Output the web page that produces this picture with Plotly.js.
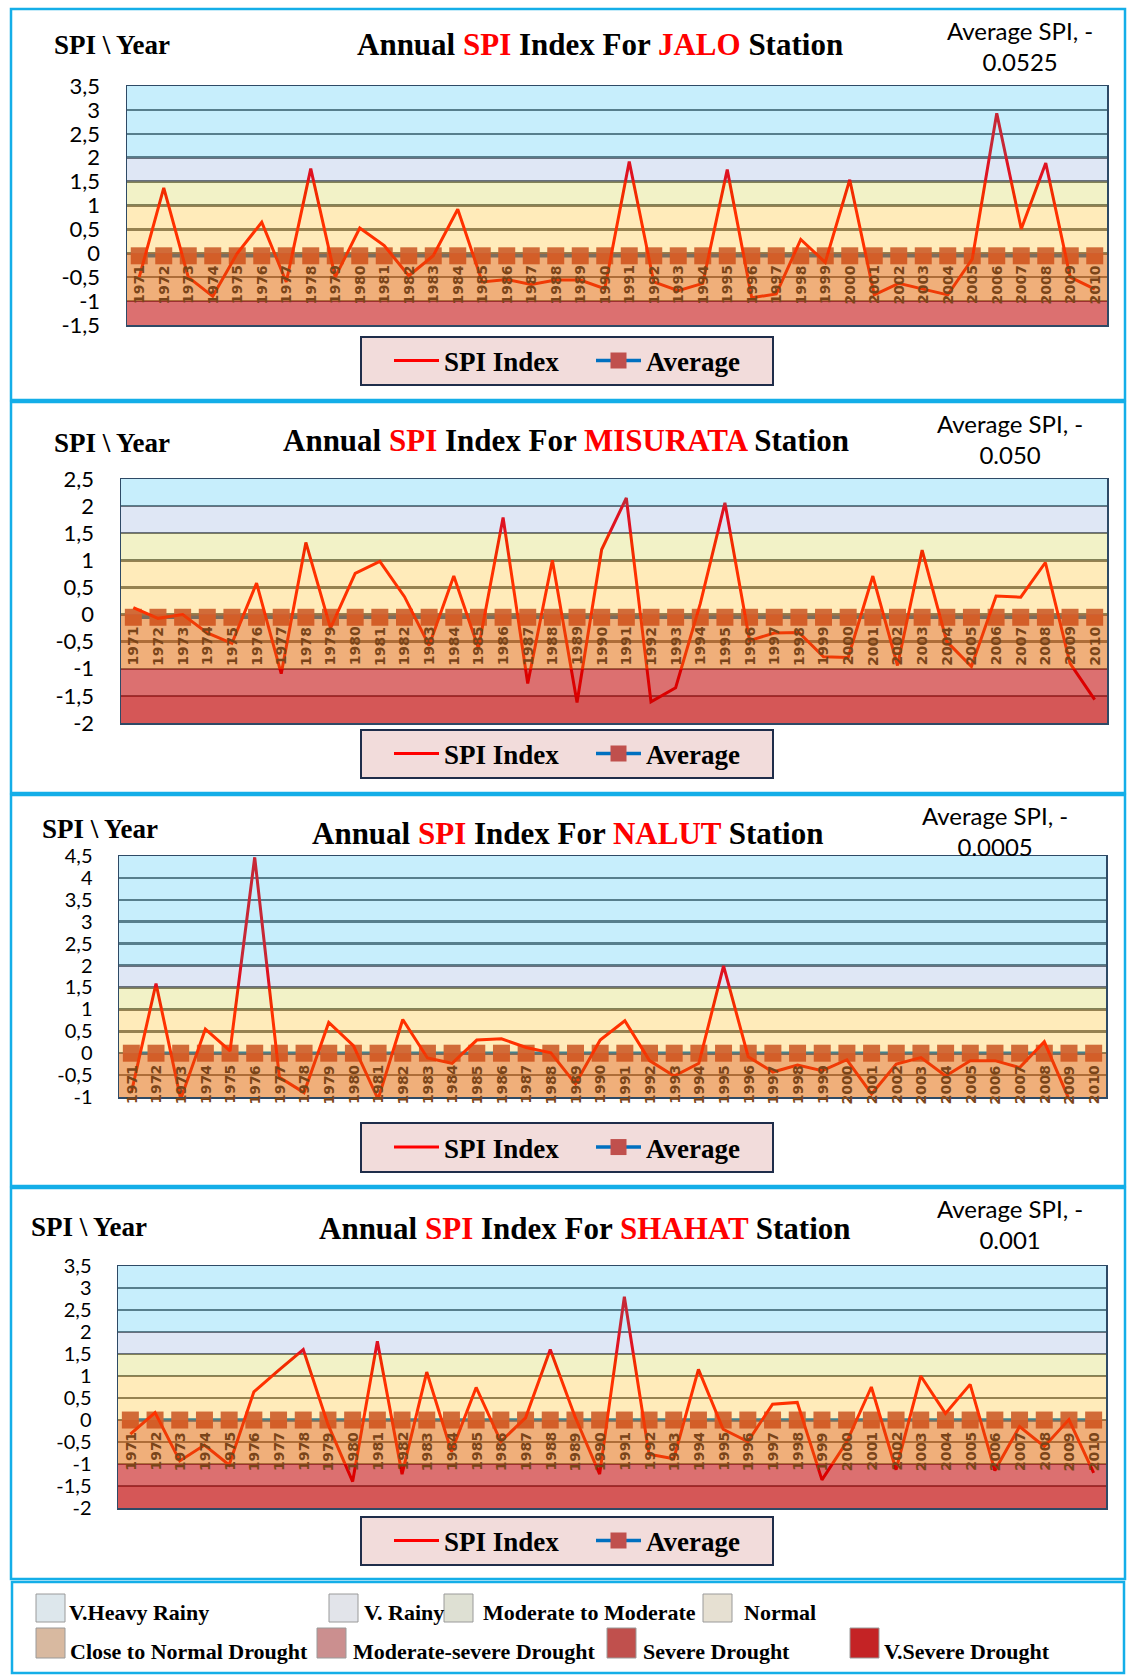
<!DOCTYPE html>
<html><head><meta charset="utf-8">
<script src="https://cdn.plot.ly/plotly-3.0.1.min.js"></script>
<style>html,body{margin:0;padding:0;background:#fff}</style>
</head><body>
<div id="chart" style="width:1129px;height:1679px"></div>
<script>
// ---------------- DATA ----------------
const years = ['1971','1972','1973','1974','1975','1976','1977','1978','1979','1980',
  '1981','1982','1983','1984','1985','1986','1987','1988','1989','1990',
  '1991','1992','1993','1994','1995','1996','1997','1998','1999','2000',
  '2001','2002','2003','2004','2005','2006','2007','2008','2009','2010'];

const jaloSPI = [-0.50, 1.37, -0.50, -0.90, 0.00, 0.65, -0.60, 1.77, -0.50, 0.53,
  0.16, -0.47, -0.05, 0.92, -0.60, -0.55, -0.65, -0.56, -0.56, -0.74,
  1.92, -0.60, -0.78, -0.63, 1.75, -0.93, -0.85, 0.29, -0.19, 1.54,
  -0.87, -0.63, -0.75, -0.87, -0.12, 2.93, 0.51, 1.89, -0.50, -0.75];

const misurataSPI = [0.13, -0.07, 0.00, -0.34, -0.53, 0.58, -1.09, 1.33, -0.25, 0.76,
  0.98, 0.33, -0.57, 0.71, -0.62, 1.79, -1.27, 1.00, -1.62, 1.20,
  2.15, -1.61, -1.35, 0.20, 2.06, -0.48, -0.34, -0.33, -0.78, -0.79,
  0.71, -0.94, 1.19, -0.50, -0.96, 0.34, 0.32, 0.96, -0.90, -1.57];

const nalutSPI = [-0.90, 1.59, -1.05, 0.55, 0.05, 4.47, -0.55, -0.90, 0.70, 0.17,
  -1.05, 0.77, -0.11, -0.23, 0.30, 0.33, 0.13, 0.01, -0.70, 0.30,
  0.74, -0.17, -0.52, -0.23, 1.99, -0.08, -0.43, -0.27, -0.40, -0.15,
  -0.93, -0.25, -0.10, -0.52, -0.17, -0.17, -0.33, 0.26, -1.05, -1.10];

const shahatSPI = [-0.32, 0.17, -0.93, -0.57, -1.02, 0.64, 1.13, 1.60, -0.10, -1.40,
  1.79, -1.23, 1.09, -0.72, 0.74, -0.49, 0.05, 1.60, 0.08, -1.23,
  2.80, -0.78, -0.88, 1.15, -0.21, -0.49, 0.36, 0.40, -1.36, -0.50,
  0.75, -1.13, 1.00, 0.15, 0.81, -1.15, -0.15, -0.60, 0.01, -1.20];

const stations = ['JALO', 'MISURATA', 'NALUT', 'SHAHAT'];
const averageSPI = [-0.0525, -0.050, -0.0005, -0.001];
const averageText = ['0.0525', '0.050', '0.0005', '0.001'];
const spiSeries = [jaloSPI, misurataSPI, nalutSPI, shahatSPI];

const yRanges = [[-1.5, 3.5], [-2, 2.5], [-1, 4.5], [-2, 3.5]];
const yTickVals = [
  [-1.5, -1, -0.5, 0, 0.5, 1, 1.5, 2, 2.5, 3, 3.5],
  [-2, -1.5, -1, -0.5, 0, 0.5, 1, 1.5, 2, 2.5],
  [-1, -0.5, 0, 0.5, 1, 1.5, 2, 2.5, 3, 3.5, 4, 4.5],
  [-2, -1.5, -1, -0.5, 0, 0.5, 1, 1.5, 2, 2.5, 3, 3.5]];
const yTickText = [
  ['-1,5', '-1', '-0,5', '0', '0,5', '1', '1,5', '2', '2,5', '3', '3,5'],
  ['-2', '-1,5', '-1', '-0,5', '0', '0,5', '1', '1,5', '2', '2,5'],
  ['-1', '-0,5', '0', '0,5', '1', '1,5', '2', '2,5', '3', '3,5', '4', '4,5'],
  ['-2', '-1,5', '-1', '-0,5', '0', '0,5', '1', '1,5', '2', '2,5', '3', '3,5']];

// SPI classes (lower, upper bound) and the bottom legend
const classNames = ['V.Heavy Rainy', 'V. Rainy', 'Moderate to Moderate', 'Normal',
  'Close to Normal Drought', 'Moderate-severe Drought', 'Severe Drought', 'V.Severe Drought'];
const classLower = [2, 1.5, 1, 0, -1, -1.5, -2, -10];
const classUpper = [10, 2, 1.5, 1, 0, -1, -1.5, -2];

// ---------------- STYLE ----------------
const bandFill = ['rgba(0,176,240,0.22)', 'rgba(68,114,196,0.17)', 'rgba(195,195,0,0.22)',
  'rgba(255,180,0,0.27)', 'rgba(228,108,10,0.54)', 'rgba(192,0,0,0.56)',
  'rgba(192,0,0,0.66)', 'rgba(160,0,0,0.7)'];
const swatchFill = ['#DDE7EC', '#E2E4EA', '#DEE0D3', '#E6E0D2', '#D8B9A0', '#CB8F8F', '#C0504D', '#C42325'];
const tickSize = [22, 22, 20, 20];

const W = 1129, H = 1679;
const px = v => v / W;
const py = v => 1 - v / H;

const panels = [
  {box: [11, 9, 1125, 400], plot: [127, 86, 1107, 325], title: [600, 45], lab: [52, 45], avg: [1020, 46], leg: [361, 337, 773, 385]},
  {box: [11, 402, 1125, 793], plot: [121, 479, 1107, 723], title: [566, 441], lab: [52, 443], avg: [1010, 439], leg: [361, 730, 773, 778]},
  {box: [11, 795, 1125, 1186], plot: [119, 856, 1106, 1097], title: [567, 833], lab: [40, 829], avg: [995, 831], leg: [361, 1123, 773, 1172]},
  {box: [11, 1188, 1125, 1579], plot: [118, 1266, 1106, 1508], title: [585, 1228], lab: [29, 1227], avg: [1010, 1224], leg: [361, 1517, 773, 1565]}
];

const data = [];
const shapes = [];
const annotations = [];
const layout = {
  width: W, height: H,
  margin: {l: 0, r: 0, t: 0, b: 0},
  paper_bgcolor: '#fff', plot_bgcolor: '#fff',
  showlegend: true,
  shapes: shapes, annotations: annotations
};

panels.forEach((p, i) => {
  const n = i === 0 ? '' : String(i + 1);
  const xa = 'x' + n, ya = 'y' + n;
  const legName = 'legend' + n;

  // panel frame
  shapes.push({type: 'rect', xref: 'paper', yref: 'paper', x0: px(p.box[0]), x1: px(p.box[2]),
    y0: py(p.box[3]), y1: py(p.box[1]), line: {color: '#14AEE8', width: 2.5}, layer: 'below'});
  // legend box
  shapes.push({type: 'rect', xref: 'paper', yref: 'paper', x0: px(p.leg[0]), x1: px(p.leg[2]),
    y0: py(p.leg[3]), y1: py(p.leg[1]), fillcolor: '#F2DCDB', line: {color: '#1F2D4A', width: 2}, layer: 'below'});

  layout['xaxis' + n] = {
    domain: [px(p.plot[0]), px(p.plot[2])], anchor: ya, type: 'category',
    range: [-0.5, years.length - 0.5], showticklabels: false, showgrid: false, zeroline: false,
    showline: true, mirror: true, linecolor: '#2E4A66', linewidth: 1.5, fixedrange: true
  };
  layout['yaxis' + n] = {
    domain: [py(p.plot[3]), py(p.plot[1])], anchor: xa, range: yRanges[i],
    tickvals: yTickVals[i], ticktext: yTickText[i], ticks: '', ticklabelstandoff: 21,
    tickfont: {family: 'Lato', size: tickSize[i], color: '#000'},
    showgrid: true, gridcolor: '#707070', gridwidth: 2.5, zeroline: false,
    showline: true, mirror: true, linecolor: '#2E4A66', linewidth: 1.5, fixedrange: true
  };

  // traces
  data.push({
    type: 'scatter', mode: 'lines+markers', name: 'Average', x: years,
    y: years.map(() => averageSPI[i]), xaxis: xa, yaxis: ya, legend: legName, legendrank: 2,
    line: {color: '#0070C0', width: 3.5},
    marker: {symbol: 'square', size: 17, color: '#C0504D'}, hoverinfo: 'skip'
  });
  data.push({
    type: 'scatter', mode: 'lines', name: 'SPI Index', x: years, y: spiSeries[i],
    xaxis: xa, yaxis: ya, legend: legName, legendrank: 1,
    line: {color: '#FF0000', width: 3}, hoverinfo: 'skip'
  });

  layout[legName] = {
    orientation: 'h', x: px(p.leg[0] + 28), xanchor: 'left', y: py((p.leg[1] + p.leg[3]) / 2), yanchor: 'middle',
    bgcolor: 'rgba(0,0,0,0)', borderwidth: 0,
    font: {family: 'Liberation Serif', size: 27, color: '#000', weight: 'bold'},
    entrywidth: 142, itemwidth: 45
  };

  // SPI class bands drawn over the plot (semi-transparent, like the original)
  classNames.forEach((c, k) => {
    const lo = Math.max(classLower[k], yRanges[i][0]);
    const hi = Math.min(classUpper[k], yRanges[i][1]);
    if (hi <= lo) return;
    shapes.push({type: 'rect', xref: xa + ' domain', yref: ya, x0: 0, x1: 1, y0: lo, y1: hi,
      fillcolor: bandFill[k], line: {width: 0}, layer: 'above'});
  });

  // year labels on the zero line (category serial positions)
  years.forEach((yr, k) => {
    annotations.push({x: k, y: 0, xref: xa, yref: ya, text: '<b>' + yr + '</b>', showarrow: false,
      textangle: -90, yanchor: 'top', xanchor: 'center', yshift: -10,
      font: {family: 'DejaVu Sans', size: 14, color: '#7A4519'}});
  });

  // titles and labels
  annotations.push({xref: 'paper', yref: 'paper', x: px(p.title[0]), y: py(p.title[1]),
    xanchor: 'center', yanchor: 'middle', showarrow: false,
    text: '<b>Annual <span style="color:#FF0000">SPI</span> Index For <span style="color:#FF0000">' +
      stations[i] + '</span> Station</b>',
    font: {family: 'Liberation Serif', size: 31, color: '#000'}});
  annotations.push({xref: 'paper', yref: 'paper', x: px(p.lab[0]), y: py(p.lab[1]),
    xanchor: 'left', yanchor: 'middle', showarrow: false, text: '<b>SPI \\ Year</b>',
    font: {family: 'Liberation Serif', size: 27, color: '#000'}});
  annotations.push({xref: 'paper', yref: 'paper', x: px(p.avg[0]), y: py(p.avg[1]),
    xanchor: 'center', yanchor: 'middle', showarrow: false, align: 'center',
    text: 'Average SPI, -<br>' + averageText[i],
    font: {family: 'Lato', size: 24, color: '#000'}});
});

// bottom legend frame
shapes.push({type: 'rect', xref: 'paper', yref: 'paper', x0: px(12), x1: px(1124),
  y0: py(1673), y1: py(1582), line: {color: '#14AEE8', width: 2.5}, layer: 'below'});
const swX = [36, 329, 444, 703, 36, 317, 607, 850];
const txX = [67, 362, 481, 742, 68, 351, 641, 882];
const rowSw = [[1594, 1622], [1628, 1658]];
const rowTx = [1612, 1651];
classNames.forEach((c, k) => {
  const r = k < 4 ? 0 : 1;
  shapes.push({type: 'rect', xref: 'paper', yref: 'paper', x0: px(swX[k]), x1: px(swX[k] + 29),
    y0: py(rowSw[r][1]), y1: py(rowSw[r][0]), fillcolor: swatchFill[k],
    line: {color: '#9A9A9A', width: 1}, layer: 'below'});
  annotations.push({xref: 'paper', yref: 'paper', x: px(txX[k]), y: py(rowTx[r]),
    xanchor: 'left', yanchor: 'middle', showarrow: false, text: '<b>' + c + '</b>',
    font: {family: 'Liberation Serif', size: 22, color: '#000'}});
});

Plotly.newPlot('chart', data, layout, {staticPlot: true, displayModeBar: false});
</script>
</body></html>
